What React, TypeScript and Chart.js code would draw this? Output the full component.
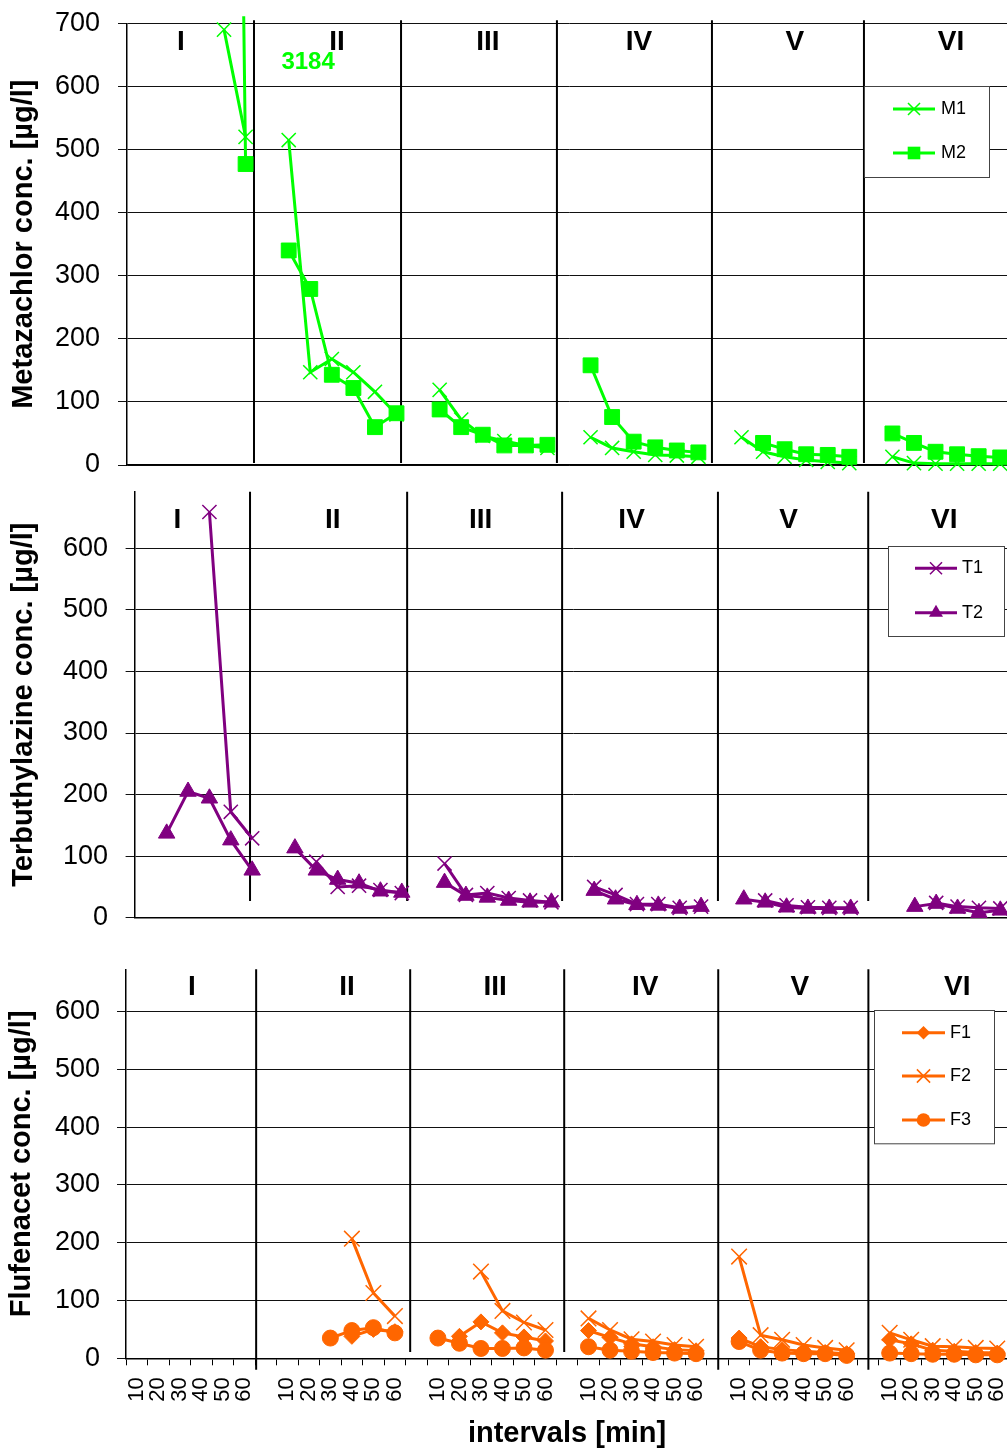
import React, { useEffect, useRef } from 'react';
import { Chart, registerables } from 'chart.js';

Chart.register(...registerables);

const FONT = '"Liberation Sans", Arial, Helvetica, sans-serif';

// ---------- data ----------
const INTERVALS = ['10', '20', '30', '40', '50', '60'];
const SECTION_NAMES = ['I', 'II', 'III', 'IV', 'V', 'VI'];

// Metazachlor [µg/l], one row per section I..VI, intervals 10..60 min
const M1 = [
  [null, null, null, null, 690, 520],
  [515, 147, 168, 147, 116, 80],
  [119, 72, 46, 38, 31, 27],
  [44, 27, 21, 16, 15, 13],
  [44, 21, 13, 8, 5, 3],
  [13, 3, 2, 2, 2, 2],
];
const M2 = [
  [null, null, null, null, 3184, 477],
  [340, 279, 143, 122, 60, 82],
  [88, 60, 48, 31, 31, 32],
  [158, 76, 37, 28, 23, 20],
  [null, 35, 25, 17, 16, 13],
  [50, 35, 21, 17, 14, 12],
];

// Terbuthylazine [µg/l]
const T1 = [
  [null, null, null, 659, 172, 129],
  [null, 91, 50, 52, 45, 40],
  [88, 37, 40, 32, 28, 25],
  [50, 37, 22, 22, 16, 18],
  [null, 28, 20, 17, 16, 16],
  [null, null, 24, 18, 16, 15],
];
const T2 = [
  [null, 137, 205, 194, 126, 77],
  [113, 77, 62, 56, 43, 41],
  [57, 36, 33, 28, 25, 25],
  [44, 30, 21, 20, 15, 18],
  [30, 25, 17, 15, 15, 15],
  [null, 18, 23, 15, 8, 12],
];

// Flufenacet [µg/l]
const F1 = [
  [null, null, null, null, null, null],
  [null, null, null, 38, 50, 46],
  [null, 38, 63, 44, 37, 30],
  [48, 36, 25, 20, 15, 13],
  [35, 20, 15, 12, 10, 8],
  [32, 25, 14, 12, 10, 9],
];
const F2 = [
  [null, null, null, null, null, null],
  [null, null, null, 207, 113, 73],
  [null, null, 150, 82, 62, 49],
  [69, 49, 33, 29, 23, 20],
  [176, 40, 32, 23, 18, 14],
  [44, 32, 21, 20, 18, 17],
];
const F3 = [
  [null, null, null, null, null, null],
  [null, null, 35, 48, 53, 44],
  [35, 26, 17, 17, 18, 14],
  [20, 14, 12, 10, 9, 8],
  [29, 14, 9, 8, 8, 5],
  [9, 8, 7, 7, 6, 6],
];

const METAZACHLOR_TICKS = [0, 100, 200, 300, 400, 500, 600, 700];
const CONC_TICKS = [0, 100, 200, 300, 400, 500, 600];
const PEAK_NOTE = '3184';

// ---------- helpers ----------
function flatLabels(): string[] {
  const out: string[] = [];
  SECTION_NAMES.forEach((_, i) => {
    out.push(...INTERVALS);
    if (i < SECTION_NAMES.length - 1) out.push('');
  });
  return out;
}

function flatten(sections: (number | null)[][]): (number | null)[] {
  const out: (number | null)[] = [];
  sections.forEach((s, i) => {
    out.push(...s);
    if (i < sections.length - 1) out.push(null);
  });
  return out;
}

type Series = { label: string; sections: (number | null)[][]; style: string; radius: number };

type PanelSpec = {
  key: string;
  top: number;
  height: number;
  width: number;
  padTop: number;
  chartBottom: number;
  yWidth: number;
  yMax: number;
  yTicks: number[];
  yTickPad: number;
  yTitle: string;
  yTitlePad: number;
  color: string;
  series: Series[];
  showX: boolean;
  clipTop: number;
  dividers: { at: number; from: number; to: number }[];
  romanX: number[];
  romanY: number;
  note?: { text: string; x: number; y: number };
  legend: { box: [number, number, number, number]; rows: number[]; line: [number, number]; textX: number };
};

const PANELS: PanelSpec[] = [
  {
    key: 'metazachlor',
    top: 0,
    height: 480,
    width: 1011,
    padTop: 23.3,
    chartBottom: 465,
    yWidth: 127,
    yMax: 700,
    yTicks: METAZACHLOR_TICKS,
    yTickPad: 18,
    yTitle: 'Metazachlor conc. [µg/l]',
    yTitlePad: 7,
    color: '#00FF00',
    series: [
      { label: 'M1', sections: M1, style: 'crossRot', radius: 10 },
      { label: 'M2', sections: M2, style: 'rect', radius: 10.5 },
    ],
    showX: false,
    clipTop: 7,
    dividers: [
      { at: 5.39, from: 3, to: 705 },
      { at: 12.21, from: 3, to: 705 },
      { at: 19.44, from: 3, to: 705 },
      { at: 26.63, from: 3, to: 705 },
      { at: 33.68, from: 3, to: 705 },
    ],
    romanX: [2.0, 9.24, 16.24, 23.25, 30.48, 37.72],
    romanY: 670,
    note: { text: PEAK_NOTE, x: 7.9, y: 638 },
    legend: { box: [864, 86, 989, 177], rows: [109, 153], line: [893, 935], textX: 941 },
  },
  {
    key: 'terbuthylazine',
    top: 480,
    height: 450,
    width: 1011,
    padTop: 11.7,
    chartBottom: 437.7,
    yWidth: 134.6,
    yMax: 692,
    yTicks: CONC_TICKS,
    yTickPad: 17.6,
    yTitle: 'Terbuthylazine conc. [µg/l]',
    yTitlePad: 7,
    color: '#800080',
    series: [
      { label: 'T1', sections: T1, style: 'crossRot', radius: 10 },
      { label: 'T2', sections: T2, style: 'triangle', radius: 9.5 },
    ],
    showX: false,
    clipTop: 20,
    dividers: [
      { at: 4.9, from: 27, to: 692 },
      { at: 12.25, from: 27, to: 692 },
      { at: 19.5, from: 27, to: 692 },
      { at: 26.79, from: 27, to: 692 },
      { at: 33.82, from: 27, to: 692 },
    ],
    romanX: [1.5, 8.77, 15.69, 22.75, 30.09, 37.38],
    romanY: 646,
    legend: { box: [888, 66, 1004, 156], rows: [88.3, 132.7], line: [915, 957], textX: 962 },
  },
  {
    key: 'flufenacet',
    top: 930,
    height: 522,
    width: 1008,
    padTop: 39.3,
    chartBottom: 428.3,
    yWidth: 126,
    yMax: 673,
    yTicks: CONC_TICKS,
    yTickPad: 17,
    yTitle: 'Flufenacet conc. [µg/l]',
    yTitlePad: 5,
    color: '#FF6600',
    series: [
      { label: 'F1', sections: F1, style: 'rectRot', radius: 8 },
      { label: 'F2', sections: F2, style: 'crossRot', radius: 11 },
      { label: 'F3', sections: F3, style: 'circle', radius: 8 },
    ],
    showX: true,
    clipTop: 20,
    dividers: [
      { at: 5.55, from: -20, to: 673 },
      { at: 12.71, from: 11, to: 673 },
      { at: 19.87, from: 11, to: 673 },
      { at: 27.03, from: -20, to: 673 },
      { at: 34.01, from: -20, to: 673 },
    ],
    romanX: [2.56, 9.77, 16.66, 23.64, 30.82, 38.14],
    romanY: 642,
    legend: { box: [874, 80, 994, 213.3], rows: [102.7, 146, 190], line: [902, 945], textX: 950 },
  },
];

function drawMarker(ctx: CanvasRenderingContext2D, style: string, x: number, y: number, r: number, color: string) {
  ctx.save();
  ctx.fillStyle = color;
  ctx.strokeStyle = color;
  ctx.beginPath();
  if (style === 'crossRot') {
    const d = r * Math.SQRT1_2;
    ctx.lineWidth = 1.5;
    ctx.moveTo(x - d, y - d);
    ctx.lineTo(x + d, y + d);
    ctx.moveTo(x + d, y - d);
    ctx.lineTo(x - d, y + d);
    ctx.stroke();
  } else if (style === 'rect') {
    const s = r * Math.SQRT1_2;
    ctx.fillRect(x - s, y - s, 2 * s, 2 * s);
  } else if (style === 'triangle') {
    ctx.moveTo(x, y - r);
    ctx.lineTo(x + r * Math.sin((2 * Math.PI) / 3), y + r * 0.5);
    ctx.lineTo(x - r * Math.sin((2 * Math.PI) / 3), y + r * 0.5);
    ctx.closePath();
    ctx.fill();
  } else if (style === 'rectRot') {
    ctx.moveTo(x, y - r);
    ctx.lineTo(x + r, y);
    ctx.lineTo(x, y + r);
    ctx.lineTo(x - r, y);
    ctx.closePath();
    ctx.fill();
  } else {
    ctx.arc(x, y, r, 0, Math.PI * 2);
    ctx.fill();
  }
  ctx.restore();
}

function annotationPlugin(p: PanelSpec) {
  return {
    id: 'annot_' + p.key,
    beforeDatasetsDraw(chart: any) {
      const { ctx } = chart;
      const x = chart.scales.x;
      const y = chart.scales.y;
      ctx.save();
      ctx.strokeStyle = '#000';
      ctx.lineWidth = 2;
      p.dividers.forEach((d) => {
        const px = x.getPixelForValue(d.at);
        ctx.beginPath();
        ctx.moveTo(px, y.getPixelForValue(d.from));
        ctx.lineTo(px, y.getPixelForValue(d.to));
        ctx.stroke();
      });
      ctx.fillStyle = '#000';
      ctx.font = `bold 28px ${FONT}`;
      ctx.textAlign = 'center';
      ctx.textBaseline = 'middle';
      SECTION_NAMES.forEach((n, i) => {
        ctx.fillText(n, x.getPixelForValue(p.romanX[i]), y.getPixelForValue(p.romanY));
      });
      if (p.note) {
        ctx.fillStyle = p.color;
        ctx.font = `bold 24px ${FONT}`;
        ctx.fillText(p.note.text, x.getPixelForValue(p.note.x), y.getPixelForValue(p.note.y));
      }
      ctx.restore();
    },
    afterDatasetsDraw(chart: any) {
      const { ctx } = chart;
      const L = p.legend;
      ctx.save();
      ctx.fillStyle = '#fff';
      ctx.fillRect(L.box[0], L.box[1], L.box[2] - L.box[0], L.box[3] - L.box[1]);
      ctx.strokeStyle = '#444';
      ctx.lineWidth = 1;
      ctx.strokeRect(L.box[0] + 0.5, L.box[1] + 0.5, L.box[2] - L.box[0], L.box[3] - L.box[1]);
      p.series.forEach((s, i) => {
        const ry = L.rows[i];
        ctx.strokeStyle = p.color;
        ctx.lineWidth = 3;
        ctx.beginPath();
        ctx.moveTo(L.line[0], ry);
        ctx.lineTo(L.line[1], ry);
        ctx.stroke();
        drawMarker(ctx, s.style, (L.line[0] + L.line[1]) / 2, ry, s.radius * 0.85, p.color);
        ctx.fillStyle = '#000';
        ctx.font = `18px ${FONT}`;
        ctx.textAlign = 'left';
        ctx.textBaseline = 'middle';
        ctx.fillText(s.label, L.textX, ry);
      });
      ctx.restore();
    },
  };
}

function buildConfig(p: PanelSpec): any {
  const labels = flatLabels();
  const n = p.series.length;
  const datasets = p.series.map((s, i) => ({
    label: s.label,
    data: flatten(s.sections),
    order: n - 1 - i,
    borderColor: p.color,
    backgroundColor: p.color,
    borderWidth: 3,
    pointStyle: s.style,
    pointRadius: s.radius,
    pointHoverRadius: s.radius,
    pointBackgroundColor: p.color,
    pointBorderColor: p.color,
    pointBorderWidth: s.style === 'crossRot' ? 1.5 : 1,
    spanGaps: false,
    tension: 0,
    clip: { left: 20, right: 20, top: p.clipTop, bottom: 20 },
  }));

  return {
    type: 'line',
    data: { labels, datasets },
    options: {
      responsive: false,
      maintainAspectRatio: false,
      animation: false,
      devicePixelRatio: 1,
      events: [],
      layout: { autoPadding: false, padding: { top: p.padTop, bottom: 0, left: 0, right: 0 } },
      plugins: { legend: { display: false }, tooltip: { enabled: false } },
      scales: {
        x: {
          type: 'category',
          offset: true,
          grid: {
            display: p.showX,
            drawOnChartArea: false,
            drawTicks: true,
            tickLength: 7,
            color: '#000',
            lineWidth: 1,
            offset: true,
          },
          border: { display: true, color: '#000', width: 1.5 },
          ticks: {
            display: p.showX,
            autoSkip: false,
            minRotation: 90,
            maxRotation: 90,
            padding: 12,
            color: '#000',
            font: { family: FONT, size: 22 },
          },
          title: {
            display: p.showX,
            text: 'intervals [min]',
            color: '#000',
            font: { family: FONT, size: 29, weight: 'bold' },
            padding: { top: 0, bottom: 1 },
          },
          afterFit: (s: any) => {
            s.height = p.height - p.chartBottom;
            s.paddingLeft = 0;
            s.paddingRight = 0;
          },
        },
        y: {
          type: 'linear',
          min: 0,
          max: p.yMax,
          ticks: {
            stepSize: 100,
            padding: p.yTickPad,
            color: '#000',
            font: { family: FONT, size: 27 },
          },
          afterBuildTicks: (s: any) => {
            s.ticks = p.yTicks.map((v) => ({ value: v }));
          },
          grid: { color: '#111', lineWidth: 1, tickLength: 9, drawTicks: true },
          border: { display: true, color: '#000', width: 1.5 },
          title: {
            display: true,
            text: p.yTitle,
            color: '#000',
            font: { family: FONT, size: 29, weight: 'bold' },
            padding: { top: p.yTitlePad - 0.6, bottom: 0 },
          },
          afterFit: (s: any) => {
            s.width = p.yWidth;
            s.paddingTop = 0;
            s.paddingBottom = 0;
          },
        },
      },
    },
    plugins: [annotationPlugin(p)],
  };
}

function Panel({ spec }: { spec: PanelSpec }) {
  const ref = useRef<HTMLCanvasElement | null>(null);
  useEffect(() => {
    if (!ref.current) return;
    const chart = new Chart(ref.current, buildConfig(spec));
    return () => chart.destroy();
  }, [spec]);
  return (
    <canvas
      ref={ref}
      width={spec.width}
      height={spec.height}
      style={{
        position: 'absolute',
        left: 0,
        top: spec.top,
        width: spec.width,
        height: spec.height,
        display: 'block',
      }}
    />
  );
}

export default function App() {
  return (
    <div
      style={{
        position: 'absolute',
        left: 0,
        top: 0,
        width: 1007,
        height: 1452,
        overflow: 'hidden',
        background: '#fff',
      }}
    >
      {PANELS.map((p) => (
        <Panel key={p.key} spec={p} />
      ))}
    </div>
  );
}
